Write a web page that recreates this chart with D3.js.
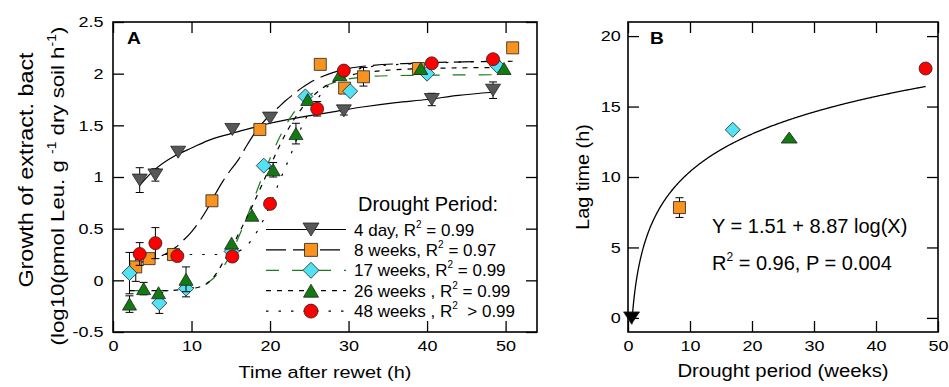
<!DOCTYPE html>
<html>
<head>
<meta charset="utf-8">
<script src="https://cdn.jsdelivr.net/npm/d3@7"></script>
<style>
  body { margin: 0; background: #fff; }
  svg { display: block; font-family: "Liberation Sans", Arial, sans-serif; }
</style>
</head>
<body>
<div class="chart"></div>
<script>
// ---- values ----

// panel A: growth after rewetting, one set per drought length
const t4day = [3.4, 5.4, 8.3, 15.2, 20.0, 29.4, 40.6, 48.4];
const g4day = [0.97, 1.02, 1.24, 1.46, 1.57, 1.64, 1.75, 1.84];
const e4day = [0.12, 0.06, 0, 0, 0, 0.04, 0.06, 0.08];

const t8wk = [2.9, 4.6, 7.7, 12.6, 18.7, 26.4, 29.5, 31.9, 38.9, 50.9];
const g8wk = [0.13, 0.21, 0.25, 0.77, 1.46, 2.09, 1.86, 1.97, 2.05, 2.25];
const e8wk = [0.14, 0.04, 0, 0, 0, 0, 0, 0.09, 0.03, 0];

const t17wk = [2.1, 5.9, 9.3, 15.1, 19.2, 24.5, 30.2, 40.0, 48.9];
const g17wk = [0.07, -0.22, -0.08, 0.28, 1.11, 1.78, 1.83, 2.0, 2.08];
const e17wk = [0.2, 0.1, 0.08, 0, 0, 0, 0, 0, 0];

const t26wk = [2.1, 3.9, 5.8, 9.3, 15.1, 17.7, 20.4, 23.3, 24.8, 28.9, 39.2, 49.8];
const g26wk = [-0.23, -0.08, -0.12, 0.01, 0.36, 0.63, 1.07, 1.42, 1.75, 1.99, 2.05, 2.05];
const e26wk = [0.08, 0.06, 0, 0.12, 0, 0, 0.07, 0.1, 0, 0, 0, 0];

const t48wk = [3.4, 5.4, 8.2, 15.2, 20.0, 26.0, 29.4, 40.6, 48.4];
const g48wk = [0.255, 0.36, 0.235, 0.23, 0.74, 1.66, 2.03, 2.1, 2.14];
const e48wk = [0.11, 0.15, 0, 0, 0, 0.07, 0.04, 0, 0];

// fitted curves
const fit4dayT = [3.4, 5, 8, 10, 12, 15, 18, 20, 24, 28, 32, 36, 40, 44, 48.4];
const fit4dayG = [0.92, 1.05, 1.21, 1.28, 1.35, 1.42, 1.48, 1.52, 1.58, 1.63, 1.68, 1.72, 1.75, 1.79, 1.82];

const fit8wkT = [2.9, 5, 7, 8, 9, 10, 11, 12, 13, 14, 15, 16, 17, 18, 19, 20, 21, 22, 23, 24, 25, 26, 28, 30, 33, 38, 50.9];
const fit8wkG = [0.17, 0.2, 0.27, 0.32, 0.39, 0.47, 0.57, 0.69, 0.83, 0.96, 1.07, 1.17, 1.3, 1.42, 1.52, 1.6, 1.67, 1.74, 1.8, 1.86, 1.91, 1.95, 2.01, 2.05, 2.08, 2.1, 2.12];

const fit17wkT = [2.1, 6, 9, 11, 12.5, 13.5, 14.3, 15, 16, 17, 18, 19, 20, 21, 22, 23, 24, 26, 28, 31, 35, 48.9];
const fit17wkG = [-0.1, -0.1, -0.09, -0.05, 0.0, 0.08, 0.16, 0.25, 0.42, 0.6, 0.8, 1.0, 1.18, 1.35, 1.5, 1.62, 1.72, 1.84, 1.91, 1.96, 1.98, 1.99];

const fit26wkT = [2.1, 6, 10, 12, 13, 14, 15, 16, 17, 18, 19, 20, 21, 22, 23, 24, 26, 28, 30, 33, 40, 49.8];
const fit26wkG = [-0.1, -0.1, -0.08, -0.03, 0.05, 0.17, 0.3, 0.45, 0.6, 0.76, 0.93, 1.1, 1.27, 1.42, 1.55, 1.66, 1.82, 1.92, 1.98, 2.02, 2.05, 2.06];

const fit48wkT = [3.4, 8, 14, 15.5, 17, 18, 19, 20, 21, 22.6, 24, 25, 26, 27, 28, 30, 33, 40, 48.4];
const fit48wkG = [0.25, 0.25, 0.25, 0.27, 0.33, 0.43, 0.56, 0.73, 0.92, 1.21, 1.48, 1.63, 1.75, 1.85, 1.92, 2.01, 2.07, 2.1, 2.12];

const legendNames = ['4 day', '8 weeks', '17 weeks', '26 weeks ', '48 weeks '];
const legendR2 = [' = 0.99', ' = 0.97', ' = 0.99', ' = 0.99', '  > 0.99'];

const xTicksA = [0, 10, 20, 30, 40, 50];
const yTicksA = [-0.5, 0, 0.5, 1, 1.5, 2, 2.5];

// panel B: lag time vs drought length
const droughtWeeks = [0.57, 8.3, 16.9, 26, 48];
const lagTime = [0, 7.83, 13.35, 12.8, 17.7];
const lagErr = [0, 0.7, 0, 0, 0];
const lagFitA = 1.51, lagFitB = 8.87; // Y = a + b log(X), printed on the panel

const xTicksB = [0, 10, 20, 30, 40, 50];
const yTicksB = [0, 5, 10, 15, 20];

// ---- styles ----
const styles = [
  {shape: 'triDown', fill: '#575757', line: '#000', dash: null, w: 15, h: 12},
  {shape: 'square', fill: '#f7931e', line: '#000', dash: '20,7', w: 12, h: 12},
  {shape: 'diamond', fill: '#52e2f4', line: '#197d19', dash: '13,13', w: 15, h: 15},
  {shape: 'triUp', fill: '#117a11', line: '#000', dash: '5,6', w: 14, h: 12},
  {shape: 'circle', fill: '#ff0000', line: '#000', dash: '2.5,10', w: 13, h: 13}
];

const seriesA = [
  {t: t4day, g: g4day, e: e4day, ft: fit4dayT, fg: fit4dayG},
  {t: t8wk, g: g8wk, e: e8wk, ft: fit8wkT, fg: fit8wkG},
  {t: t17wk, g: g17wk, e: e17wk, ft: fit17wkT, fg: fit17wkG},
  {t: t26wk, g: g26wk, e: e26wk, ft: fit26wkT, fg: fit26wkG},
  {t: t48wk, g: g48wk, e: e48wk, ft: fit48wkT, fg: fit48wkG}
].map((s, i) => Object.assign(s, styles[i]));

function shapePath(shape, w, h) {
  const a = w / 2, b = h / 2;
  if (shape === 'triDown') return `M${-a},${-b}L${a},${-b}L0,${b}Z`;
  if (shape === 'triUp') return `M${-a},${b}L${a},${b}L0,${-b}Z`;
  if (shape === 'square') return `M${-a},${-b}H${a}V${b}H${-a}Z`;
  if (shape === 'diamond') return `M0,${-b}L${a},0L0,${b}L${-a},0Z`;
  return `M${a},0A${a},${a} 0 1,1 ${-a},0A${a},${a} 0 1,1 ${a},0Z`;
}

const W = 949, H = 387;
const svg = d3.select('.chart').append('svg')
  .attr('width', W)
  .attr('height', H);

const TICK = 11;
const LABEL_SX = 1.2; // axis lettering in the figure is a bit wide

// draws the frame and inward ticks on all four sides
function drawFrame(x, y, box, xTicks, yTicks, padX, padY) {
  const bottom = svg.append('g')
    .attr('transform', `translate(0,${box.bottom})`)
    .call(d3.axisBottom(x).tickValues(xTicks).tickSizeInner(-TICK).tickSizeOuter(0)
      .tickPadding(padX).tickFormat(d => String(d)));
  const left = svg.append('g')
    .attr('transform', `translate(${box.left},0)`)
    .call(d3.axisLeft(y).tickValues(yTicks).tickSizeInner(-TICK).tickSizeOuter(0)
      .tickPadding(padY).tickFormat(d => String(d)));
  const top = svg.append('g')
    .attr('transform', `translate(0,${box.top})`)
    .call(d3.axisTop(x).tickValues(xTicks).tickSizeInner(-TICK).tickSizeOuter(0).tickFormat(''));
  const right = svg.append('g')
    .attr('transform', `translate(${box.right},0)`)
    .call(d3.axisRight(y).tickValues(yTicks).tickSizeInner(-TICK).tickSizeOuter(0).tickFormat(''));

  [bottom, left, top, right].forEach(g => {
    g.select('.domain').remove();
    g.attr('font-family', null).attr('font-size', 15);
    g.selectAll('line').attr('stroke', '#000').attr('stroke-width', 1.3);
    g.selectAll('text').attr('fill', '#000').attr('transform', `scale(${LABEL_SX},1)`);
  });

  svg.append('rect')
    .attr('x', box.left)
    .attr('y', box.top)
    .attr('width', box.right - box.left)
    .attr('height', box.bottom - box.top)
    .attr('fill', 'none')
    .attr('stroke', '#000')
    .attr('stroke-width', 1.6);
}

function errorBars(g, pts, x, y) {
  const withErr = pts.filter(p => p.e > 0);
  g.selectAll(null).data(withErr).enter().append('path')
    .attr('d', p => {
      const cx = x(p.x), y1 = y(p.y - p.e), y2 = y(p.y + p.e);
      return `M${cx},${y1}V${y2}M${cx - 4},${y1}H${cx + 4}M${cx - 4},${y2}H${cx + 4}`;
    })
    .attr('fill', 'none')
    .attr('stroke', '#000')
    .attr('stroke-width', 1);
}

function markers(g, pts, x, y, s) {
  g.selectAll(null).data(pts).enter().append('path')
    .attr('transform', p => `translate(${x(p.x)},${y(p.y)})`)
    .attr('d', shapePath(s.shape, s.w, s.h))
    .attr('fill', s.fill)
    .attr('stroke', '#222')
    .attr('stroke-width', 0.8);
}

// ================= panel A =================
const boxA = {left: 113, right: 537, top: 22, bottom: 332};
const xA = d3.scaleLinear().domain([0, 54]).range([boxA.left, boxA.right]);
const yA = d3.scaleLinear().domain([-0.5, 2.5]).range([boxA.bottom, boxA.top]);

const lineA = d3.line()
  .x(d => xA(d[0]))
  .y(d => yA(d[1]))
  .curve(d3.curveMonotoneX);

const gA = svg.append('g');

// fit curves first so markers sit on top
seriesA.forEach(s => {
  gA.append('path')
    .attr('d', lineA(d3.zip(s.ft, s.fg)))
    .attr('fill', 'none')
    .attr('stroke', s.line)
    .attr('stroke-width', 1.2)
    .attr('stroke-dasharray', s.dash);
});

seriesA.forEach(s => {
  const pts = s.t.map((t, i) => ({x: t, y: s.g[i], e: s.e[i]}));
  errorBars(gA, pts, xA, yA);
  markers(gA, pts, xA, yA, s);
});

drawFrame(xA, yA, boxA, xTicksA, yTicksA, 8, 8);

svg.append('text')
  .attr('transform', `translate(127,44) scale(${LABEL_SX},1)`)
  .attr('font-size', 16)
  .attr('font-weight', 'bold')
  .text('A');

// legend
const legend = svg.append('g');
legend.append('text')
  .attr('x', 358)
  .attr('y', 210.5)
  .attr('font-size', 20)
  .text('Drought Period:');

seriesA.forEach((s, i) => {
  const ry = 229.5 + i * 20.4;
  legend.append('line')
    .attr('x1', 266).attr('x2', 346)
    .attr('y1', ry).attr('y2', ry)
    .attr('stroke', s.line)
    .attr('stroke-width', 1.2)
    .attr('stroke-dasharray', s.dash);
  legend.append('path')
    .attr('transform', `translate(311,${ry})`)
    .attr('d', shapePath(s.shape, s.w + 1, s.h + 1))
    .attr('fill', s.fill)
    .attr('stroke', '#222')
    .attr('stroke-width', 0.8);
  const t = legend.append('text')
    .attr('x', 354)
    .attr('y', ry + 6)
    .attr('font-size', 17)
    .attr('xml:space', 'preserve');
  t.append('tspan').text(legendNames[i] + ', R');
  t.append('tspan').attr('font-size', 10).attr('dy', -8).text('2');
  t.append('tspan').attr('dy', 8).text(legendR2[i]);
});

// axis titles A
svg.append('text')
  .attr('transform', `translate(325,378) scale(1.17,1)`)
  .attr('text-anchor', 'middle')
  .attr('font-size', 17)
  .text('Time after rewet (h)');

svg.append('text')
  .attr('transform', 'translate(33,170) rotate(-90) scale(1.17,1)')
  .attr('text-anchor', 'middle')
  .attr('font-size', 20)
  .text('Growth of extract. bact');

const yt2 = svg.append('text')
  .attr('transform', 'translate(64,186) rotate(-90) scale(1.17,1)')
  .attr('text-anchor', 'middle')
  .attr('font-size', 19);
yt2.append('tspan').text('(log10(pmol Leu. g ');
yt2.append('tspan').attr('font-size', 12).attr('dy', -8).text('-1');
yt2.append('tspan').attr('dy', 8).text(' dry soil h');
yt2.append('tspan').attr('font-size', 12).attr('dy', -8).text('-1');
yt2.append('tspan').attr('dy', 8).text(')');

// ================= panel B =================
const boxB = {left: 628, right: 938, top: 22, bottom: 332};
const xB = d3.scaleLinear().domain([0, 50]).range([boxB.left, boxB.right]);
const yB = d3.scaleLinear().domain([-1, 21]).range([boxB.bottom, boxB.top]);

const gB = svg.append('g');

const fitX = d3.range(0.6, 48.01, 0.1);
gB.append('path')
  .attr('d', d3.line()
    .x(d => xB(d))
    .y(d => yB(lagFitA + lagFitB * Math.log10(d)))(fitX))
  .attr('fill', 'none')
  .attr('stroke', '#000')
  .attr('stroke-width', 1.3);

const stylesB = styles.map((s, i) => i === 0 ? Object.assign({}, s, {fill: '#000', w: 16}) :
  i === 3 ? Object.assign({}, s, {w: 16, h: 11}) : s);

droughtWeeks.forEach((w, i) => {
  const pts = [{x: w, y: lagTime[i], e: lagErr[i]}];
  errorBars(gB, pts, xB, yB);
  markers(gB, pts, xB, yB, stylesB[i]);
});

drawFrame(xB, yB, boxB, xTicksB, yTicksB, 8, 6);

svg.append('text')
  .attr('transform', `translate(650,44) scale(${LABEL_SX},1)`)
  .attr('font-size', 16)
  .attr('font-weight', 'bold')
  .text('B');

svg.append('text')
  .attr('x', 712)
  .attr('y', 233)
  .attr('font-size', 20)
  .text('Y = 1.51 + 8.87 log(X)');

const r2 = svg.append('text')
  .attr('x', 712)
  .attr('y', 270)
  .attr('font-size', 20);
r2.append('tspan').text('R');
r2.append('tspan').attr('font-size', 12).attr('dy', -9).text('2');
r2.append('tspan').attr('dy', 9).text(' = 0.96, P = 0.004');

svg.append('text')
  .attr('transform', 'translate(783,377) scale(1.13,1)')
  .attr('text-anchor', 'middle')
  .attr('font-size', 18)
  .text('Drought period (weeks)');

svg.append('text')
  .attr('transform', 'translate(589,177) rotate(-90) scale(1.1,1)')
  .attr('text-anchor', 'middle')
  .attr('font-size', 18)
  .text('Lag time (h)');
</script>
</body>
</html>
